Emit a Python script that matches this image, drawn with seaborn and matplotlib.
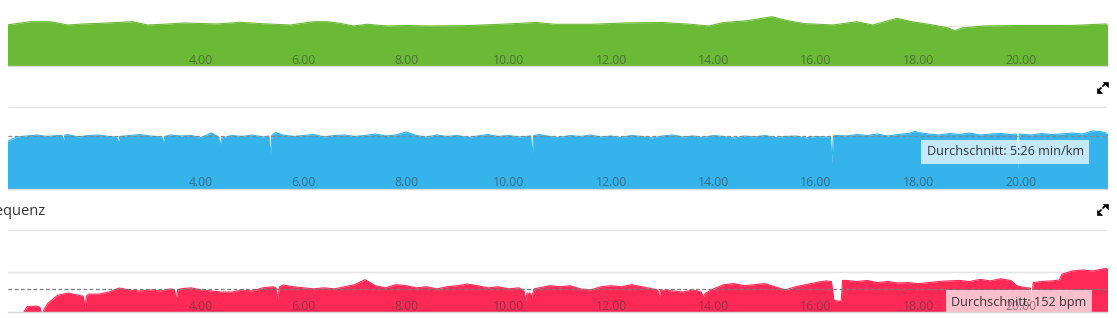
import matplotlib
matplotlib.use("Agg")
import matplotlib.pyplot as plt
from matplotlib.patches import Polygon
from matplotlib.lines import Line2D
import numpy as np
import pandas as pd
import seaborn as sns

# ---------------- data ----------------
elev_km = [0.2, 0.67, 1.06, 1.39, 1.7, 2.03, 2.35, 2.67, 2.95, 3.3, 3.65, 4.0, 4.31, 4.76,
           5.29, 5.74, 6.19, 6.46, 6.71, 6.97, 7.24, 7.63, 8.0, 8.45, 9.13, 9.84, 10.54,
           10.91, 11.61, 12.29, 13.0, 13.56, 13.91, 14.19, 14.67, 15.14, 15.44, 15.79,
           16.33, 16.8, 17.11, 17.58, 17.88, 18.28, 18.58, 18.71, 18.85, 19.28, 19.96,
           20.67, 21.02, 21.64, 21.8]
elev_m = [341, 344.3, 344.3, 341, 342, 342.7, 343.5, 344.3, 341, 341.8, 343, 342.5, 342,
          343.7, 342, 341, 344.3, 344.3, 342.7, 340, 341.7, 340, 340.5, 340, 340.3, 341.7,
          343.5, 341.7, 341.7, 343.1, 343.5, 341.7, 340, 343.5, 345.3, 349.3, 345.3,
          342.4, 341, 344.3, 341, 347.7, 344.2, 341, 338.1, 335.3, 338.1, 340, 340.5,
          340.5, 340.6, 342, 342]

pace_km = [0.2, 0.4, 0.6, 0.8, 1.0, 1.2, 1.28, 1.31, 1.34, 1.4, 1.6, 1.8, 2.0, 2.2, 2.35,
           2.38, 2.41, 2.6, 2.8, 3.0, 3.23, 3.26, 3.29, 3.4, 3.6, 3.8, 4.0, 4.2, 4.34, 4.37,
           4.4, 4.6, 4.8, 5.0, 5.2, 5.32, 5.35, 5.38, 5.45, 5.6, 5.8, 6.0, 6.2, 6.4, 6.6,
           6.8, 7.0, 7.2, 7.4, 7.6, 7.8, 8.0, 8.2, 8.4, 8.6, 8.8, 9.0, 9.2, 9.4, 9.6, 9.8,
           10.0, 10.2, 10.43, 10.46, 10.49, 10.6, 10.8, 11.0, 11.2, 11.4, 11.6, 11.8, 12.0,
           12.2, 12.4, 12.6, 12.8, 13.0, 13.2, 13.4, 13.6, 13.8, 14.0, 14.2, 14.4, 14.6,
           14.8, 15.0, 15.2, 15.4, 15.6, 15.8, 16.0, 16.2, 16.28, 16.31, 16.34, 16.4, 16.6,
           16.8, 17.0, 17.2, 17.4, 17.6, 17.8, 17.93, 18.0, 18.2, 18.4, 18.6, 18.8, 19.0,
           19.2, 19.4, 19.6, 19.8, 19.91, 19.94, 19.97, 20.2, 20.4, 20.6, 20.8, 21.0, 21.2,
           21.4, 21.55, 21.65, 21.8]
pace_s = [338, 328, 326, 324, 327, 325, 325, 336, 324, 323, 328, 325, 324, 327, 328,
          342, 327, 325, 323, 326, 328, 340, 327, 324, 326, 325, 329, 320, 328, 347,
          330, 325, 327, 324, 328, 326, 366, 325, 319, 324, 327, 325, 323, 328, 325,
          324, 327, 325, 322, 326, 324, 318, 325, 328, 324, 327, 325, 329, 326, 323, 327,
          325, 328, 326, 364, 325, 323, 327, 329, 325, 327, 324, 328, 326,
          329, 325, 327, 330, 326, 324, 328, 326, 329, 325, 327, 330, 326,
          328, 325, 329, 327, 326, 330, 327, 328, 327, 380, 326, 325, 326,
          323, 325, 322, 326, 323, 321, 317, 319, 322, 324, 321, 323, 320,
          324, 322, 321, 323, 322, 394, 322, 324, 321, 323, 322, 320, 322,
          316, 317, 320, 320]
pace_avg = 326  # 5:26 min/km

hr_km = [0.2, 0.4, 0.6, 0.8, 0.86, 0.88, 0.92, 1.0, 1.2, 1.4, 1.6, 1.7, 1.73, 1.76, 1.8,
         2.0, 2.2, 2.4, 2.6, 2.8, 3.0, 3.2, 3.4, 3.48, 3.51, 3.54, 3.6, 3.8, 4.0, 4.2,
         4.4, 4.6, 4.8, 5.0, 5.2, 5.4, 5.46, 5.49, 5.53, 5.6, 5.8, 6.0, 6.2, 6.4, 6.6,
         6.8, 7.0, 7.2, 7.4, 7.6, 7.8, 8.0, 8.2, 8.4, 8.6, 8.8, 9.0, 9.2, 9.4, 9.6, 9.8,
         10.0, 10.2, 10.3, 10.33, 10.36, 10.42, 10.45, 10.5, 10.6, 10.8, 11.0, 11.2,
         11.4, 11.6, 11.8, 12.0, 12.2, 12.4, 12.6, 12.8, 12.91, 12.94, 12.97, 13.2, 13.4,
         13.6, 13.76, 13.8, 13.84, 14.0, 14.2, 14.4, 14.6, 14.8, 15.0, 15.2, 15.4, 15.6,
         15.8, 16.0, 16.2, 16.3, 16.35, 16.49, 16.52, 16.6, 16.8, 17.0, 17.2, 17.4, 17.6,
         17.8, 18.0, 18.2, 18.4, 18.6, 18.8, 19.0, 19.2, 19.4, 19.6, 19.8, 19.92, 20.0,
         20.1, 20.18, 20.21, 20.24, 20.4, 20.6, 20.75, 20.8, 21.0, 21.2, 21.4, 21.6, 21.8]
hr_bpm = [130, 135, 143.5, 143.8, 143, 139, 141.5, 145, 149, 150, 149, 148.5, 142.9, 148.5,
          149.5, 149.5, 150.5, 152.4, 151.5, 151, 151.5, 151, 152, 151.5, 146, 151.5, 152,
          152.5, 151.5, 151, 150.5, 150.5, 151.5, 151, 152.5, 153, 152.5, 146.7, 153,
          153.8, 153, 152.5, 152, 152.5, 152, 153, 154, 156.4, 153.5, 152.5, 154, 153.5,
          152.5, 153, 152, 153, 153.5, 154.3, 153.5, 152.5, 153, 152, 152.5, 151, 146,
          150, 150, 148, 152, 152.5, 153.5, 153, 153.5, 152, 151.5, 153, 153.5, 153, 154,
          153, 152, 151.5, 147.5, 151.5, 151, 150.5, 151.5, 150.5, 148, 150, 152, 154,
          154.5, 153.5, 154, 154.5, 153, 151.5, 153, 154, 155, 155.8, 155.5, 146.5, 146,
          156, 156, 155.5, 156, 155, 155.5, 154.8, 155, 154.5, 155, 155.5, 155.8, 156,
          155.5, 156.5, 155.8, 156.8, 156, 153.5, 153, 152.5, 152.4, 146, 155, 155.5,
          155.8, 156.2, 159, 160.5, 161, 160.5, 161.5, 162]
hr_avg = 152

tick_km = [4, 6, 8, 10, 12, 14, 16, 18, 20]
tick_labels = ["4.00", "6.00", "8.00", "10.00", "12.00", "14.00", "16.00", "18.00", "20.00"]

# ---------------- style ----------------
sns.set_theme(style="white")
plt.rcParams["font.family"] = ["Open Sans", "DejaVu Sans"]

GREEN = "#6aba36"
BLUE = "#35b3eb"
RED = "#fe2a55"
GRID = "#e4e4e4"

W, H = 1117, 318
fig = plt.figure(figsize=(W / 100, H / 100), dpi=100)


def rect(x0, y0, x1, y1):
    return [x0 / W, 1 - y1 / H, (x1 - x0) / W, (y1 - y0) / H]


def fpt(x, y):
    return (x / W, 1 - y / H)


ax_g = fig.add_axes(rect(8, 0, 1107, 66))
ax_p = fig.add_axes(rect(8, 106, 1107, 189))
ax_h = fig.add_axes(rect(8, 218, 1107, 312))

df_e = pd.DataFrame({"km": elev_km, "v": elev_m})
df_p = pd.DataFrame({"km": pace_km, "v": pace_s})
df_h = pd.DataFrame({"km": hr_km, "v": hr_bpm})

XLIM = (0.23, 21.68)


def style_axes(ax, grid_vals):
    ax.set_xlim(*XLIM)
    ax.set_axisbelow(False)
    for v in grid_vals:
        ax.axhline(v, color=GRID, lw=1, zorder=0.5)
    for s in ["top", "left", "right"]:
        ax.spines[s].set_visible(False)
    ax.spines["bottom"].set_color("#d6d6d6")
    ax.spines["bottom"].set_linewidth(1)
    ax.set_xticks(tick_km)
    ax.set_xticklabels(tick_labels)
    ax.tick_params(axis="x", length=0, pad=-9, labelsize=8.8,
                   labelcolor=(0.22, 0.22, 0.22, 0.55))
    ax.tick_params(axis="y", left=False, labelleft=False)
    ax.set_xlabel("")
    ax.set_ylabel("")
    ax.set_facecolor("none")


# elevation
sns.lineplot(data=df_e, x="km", y="v", ax=ax_g, color=GREEN, lw=0.8, zorder=1.2)
ax_g.fill_between(df_e["km"], df_e["v"], 250, color=GREEN, lw=0, zorder=1)
ax_g.set_ylim(300, 366)
style_axes(ax_g, [340])

# pace (inverted axis)
sns.lineplot(data=df_p, x="km", y="v", ax=ax_p, color=BLUE, lw=0.8, zorder=1.2)
ax_p.fill_between(df_p["km"], df_p["v"], 600, color=BLUE, lw=0, zorder=1)
ax_p.set_ylim(432, 266)
style_axes(ax_p, [268])
ax_p.axhline(pace_avg, color="#8a8a8a", lw=0.9, ls=(0, (3, 2)), zorder=1.5)
ax_p.text(0.836, 0.446, "Durchschnitt: 5:26 min/km", transform=ax_p.transAxes,
          ha="left", va="center", fontsize=9.1, color="#333333", zorder=2,
          bbox=dict(boxstyle="square,pad=0.42", fc="white", ec="none", alpha=0.7))

# heart rate
sns.lineplot(data=df_h, x="km", y="v", ax=ax_h, color=RED, lw=0.8, zorder=1.2)
ax_h.fill_between(df_h["km"], df_h["v"], 100, color=RED, lw=0, zorder=1)
ax_h.set_ylim(141, 185.71)
style_axes(ax_h, [160, 180])
ax_h.axhline(hr_avg, color="#7a7a7a", lw=0.9, ls=(0, (3, 2)), zorder=1.5)
ax_h.text(0.858, 0.106, "Durchschnitt: 152 bpm", transform=ax_h.transAxes,
          ha="left", va="center", fontsize=9.1, color="#333333", zorder=2,
          clip_on=True,
          bbox=dict(boxstyle="square,pad=0.42", fc="white", ec="none", alpha=0.7))

# section title (cut off at the left edge as in the reference)
fig.text(46 / W, 1 - 215 / H, "Herzfrequenz", ha="right", va="baseline",
         fontsize=10.5, color="#333333")

# expand icons: small triangles in opposite corners with short diagonal stems
for yc in (87, 209):
    x0, x1 = 1096.5, 1107.5
    y0, y1 = yc - 5.5, yc + 5.5
    ne = Polygon([fpt(x1 - 5, y0), fpt(x1, y0), fpt(x1, y0 + 5)], closed=True,
                 transform=fig.transFigure, fc="black", ec="black", lw=0.5)
    sw = Polygon([fpt(x0, y1 - 5), fpt(x0, y1), fpt(x0 + 5, y1)], closed=True,
                 transform=fig.transFigure, fc="black", ec="black", lw=0.5)
    fig.add_artist(ne)
    fig.add_artist(sw)
    for (a, b) in ((fpt(x1 - 2, y0 + 2), fpt(x1 - 4.5, y0 + 4.5)),
                   (fpt(x0 + 2, y1 - 2), fpt(x0 + 4.5, y1 - 4.5))):
        fig.add_artist(Line2D([a[0], b[0]], [a[1], b[1]], transform=fig.transFigure,
                              color="black", lw=1.3))

fig.savefig("out.png", dpi=100)
